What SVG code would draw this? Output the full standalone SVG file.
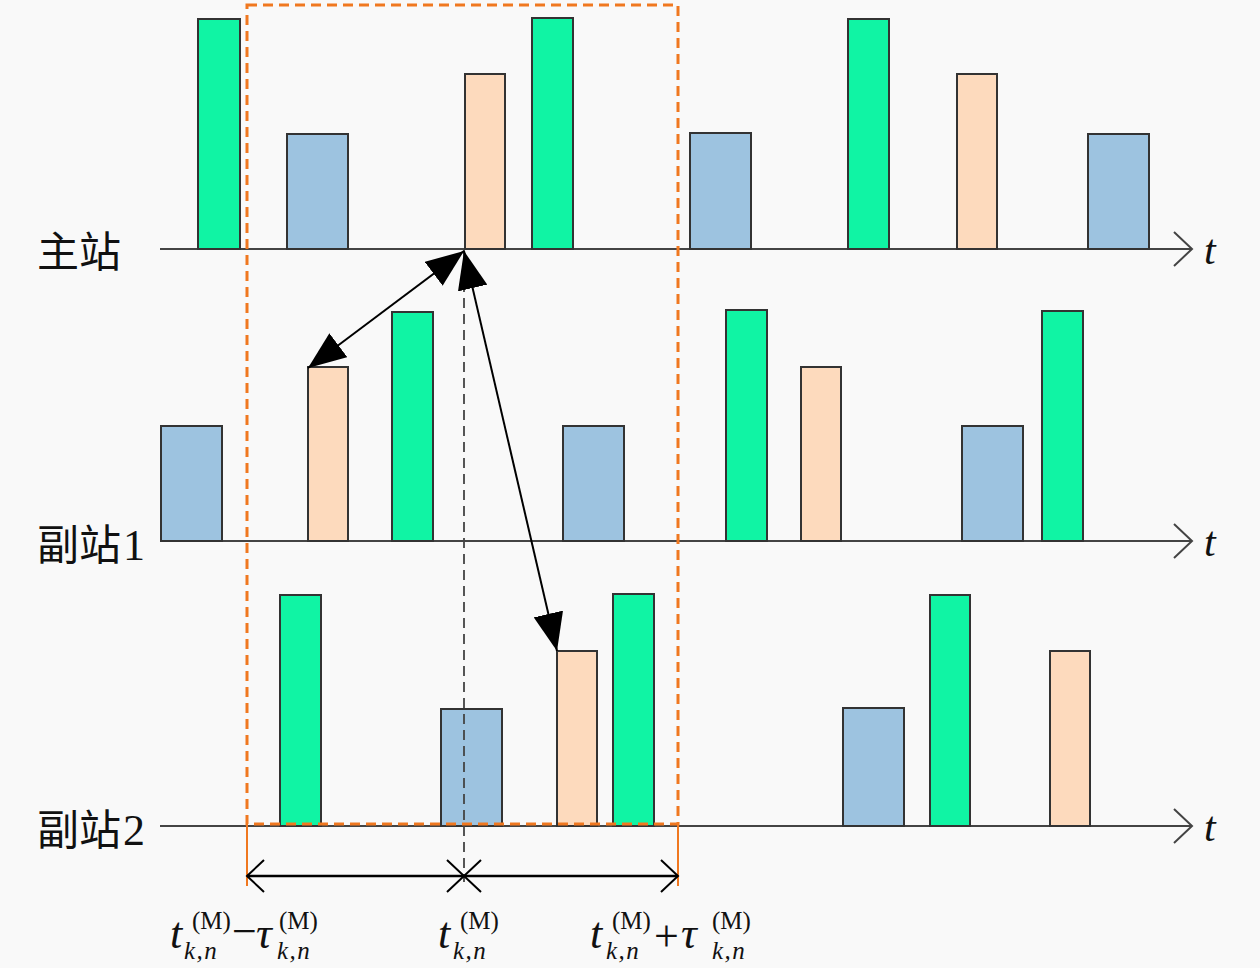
<svg xmlns="http://www.w3.org/2000/svg" width="1260" height="968" viewBox="0 0 1260 968">
<defs>
<style>
.g{fill:#10F4A4;stroke:#333;stroke-width:2}
.b{fill:#9DC3E0;stroke:#333;stroke-width:2}
.p{fill:#FDDABD;stroke:#333;stroke-width:2}
.ax{stroke:#444;stroke-width:2;fill:none}
.lab{font-family:"Noto Sans CJK SC",sans-serif;font-size:42px;fill:#111}
.num{font-family:"Liberation Serif",serif;font-size:44px;fill:#111}
.it{font-family:"Liberation Serif",serif;font-style:italic;fill:#111}
.up{font-family:"Liberation Serif",serif;fill:#111}
.sub{font-family:"Liberation Serif",serif;font-style:italic;fill:#111;font-size:25px;letter-spacing:1.5px}
.sup{font-family:"Liberation Serif",serif;fill:#111;font-size:25px}
</style>
<marker id="tri" viewBox="0 0 38 30" refX="38" refY="15" markerWidth="38" markerHeight="30" markerUnits="userSpaceOnUse" orient="auto-start-reverse">
<path d="M0,0 L38,15 L0,30 Z" fill="#000"/>
</marker>
<marker id="open" viewBox="0 0 20 34" refX="18" refY="17" markerWidth="20" markerHeight="34" markerUnits="userSpaceOnUse" orient="auto-start-reverse">
<path d="M1,1 L18,17 L1,33" fill="none" stroke="#000" stroke-width="2"/>
</marker>
</defs>
<rect width="1260" height="968" fill="#F9F9F9"/>

<g id="axes">
<path class="ax" d="M160,249 H1192 M1174,232 L1192,249 L1174,266"/>
<path class="ax" d="M160,541 H1192 M1174,524 L1192,541 L1174,558"/>
<path class="ax" d="M160,826 H1192 M1174,809 L1192,826 L1174,843"/>
<text class="it" x="1204" y="264" font-size="42">t</text>
<text class="it" x="1204" y="556" font-size="42">t</text>
<text class="it" x="1204" y="841" font-size="42">t</text>
</g>

<g id="label-main"><text class="lab" x="37" y="267">主站</text></g>
<g id="label-sub1"><text class="lab" x="37" y="560">副站</text><text class="num" x="123" y="560">1</text></g>
<g id="label-sub2"><text class="lab" x="37" y="845">副站</text><text class="num" x="123" y="845">2</text></g>

<g id="bars-main">
<rect class="g" x="198" y="19" width="42" height="230"/>
<rect class="b" x="287" y="134" width="61" height="115"/>
<rect class="p" x="465" y="74" width="40" height="175"/>
<rect class="g" x="532" y="18" width="41" height="231"/>
<rect class="b" x="690" y="133" width="61" height="116"/>
<rect class="g" x="848" y="19" width="41" height="230"/>
<rect class="p" x="957" y="74" width="40" height="175"/>
<rect class="b" x="1088" y="134" width="61" height="115"/>
</g>

<g id="bars-sub1">
<rect class="b" x="161" y="426" width="61" height="115"/>
<rect class="p" x="308" y="367" width="40" height="174"/>
<rect class="g" x="392" y="312" width="41" height="229"/>
<rect class="b" x="563" y="426" width="61" height="115"/>
<rect class="g" x="726" y="310" width="41" height="231"/>
<rect class="p" x="801" y="367" width="40" height="174"/>
<rect class="b" x="962" y="426" width="61" height="115"/>
<rect class="g" x="1042" y="311" width="41" height="230"/>
</g>

<g id="bars-sub2">
<rect class="g" x="280" y="595" width="41" height="231"/>
<rect class="b" x="441" y="709" width="61" height="117"/>
<rect class="p" x="557" y="651" width="40" height="175"/>
<rect class="g" x="613" y="594" width="41" height="232"/>
<rect class="b" x="843" y="708" width="61" height="118"/>
<rect class="g" x="930" y="595" width="40" height="231"/>
<rect class="p" x="1050" y="651" width="40" height="175"/>
</g>

<g id="window">
<rect x="247" y="5" width="431" height="819" fill="none" stroke="#F07820" stroke-width="3" stroke-dasharray="10 6"/>
<path d="M247,824 V886 M678,824 V886" stroke="#F07820" stroke-width="2" fill="none"/>
</g>

<g id="connectors">
<path d="M464,250 V882" stroke="#444" stroke-width="1.8" stroke-dasharray="10 6" fill="none"/>
<path d="M464,251 L308,368" stroke="#000" stroke-width="2" fill="none" marker-start="url(#tri)" marker-end="url(#tri)"/>
<path d="M464,251 L557,651" stroke="#000" stroke-width="2" fill="none" marker-start="url(#tri)" marker-end="url(#tri)"/>
<path d="M247,876 L464,876" stroke="#000" stroke-width="2.5" fill="none" marker-start="url(#open)" marker-end="url(#open)"/>
<path d="M464,876 L678,876" stroke="#000" stroke-width="2.5" fill="none" marker-start="url(#open)" marker-end="url(#open)"/>
</g>

<g id="time-labels">
<text class="it" x="170" y="948" font-size="44">t</text>
<text class="sup" x="192" y="929">(M)</text>
<text class="sub" x="184" y="959">k,n</text>
<text class="up" x="232" y="946" font-size="44">−</text>
<text class="it" x="256" y="948" font-size="44">τ</text>
<text class="sup" x="279" y="929">(M)</text>
<text class="sub" x="277" y="959">k,n</text>

<text class="it" x="438" y="948" font-size="44">t</text>
<text class="sup" x="460" y="929">(M)</text>
<text class="sub" x="453" y="959">k,n</text>

<text class="it" x="590" y="948" font-size="44">t</text>
<text class="sup" x="612" y="929">(M)</text>
<text class="sub" x="606" y="959">k,n</text>
<text class="up" x="654" y="951" font-size="44">+</text>
<text class="it" x="681" y="948" font-size="44">τ</text>
<text class="sup" x="712" y="929">(M)</text>
<text class="sub" x="712" y="959">k,n</text>
</g>
</svg>
